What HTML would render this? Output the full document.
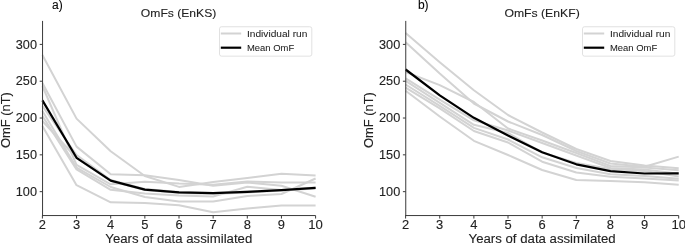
<!DOCTYPE html>
<html><head><meta charset="utf-8"><style>html,body{margin:0;padding:0;background:#fff;overflow:hidden}svg{display:block;will-change:transform} text{stroke:#222;stroke-width:0.1px} text.lg{stroke-width:0.05px}</style></head>
<body>
<svg width="685" height="243" viewBox="0 0 685 243" font-family="'Liberation Sans', sans-serif" font-size="12" fill="#222">
<rect width="685" height="243" fill="#fff"/>
<text x="52.1" y="9.0" font-size="12" fill="#000">a)</text>
<text x="417.9" y="9.3" font-size="12" fill="#000">b)</text>
<text x="178.6" y="16.5" font-size="11.4" text-anchor="middle" textLength="75.5" lengthAdjust="spacingAndGlyphs">OmFs (EnKS)</text>
<text x="542.1" y="16.5" font-size="11.4" text-anchor="middle" textLength="75.3" lengthAdjust="spacingAndGlyphs">OmFs (EnKF)</text>
<text transform="translate(9.8,120.1) rotate(-90)" text-anchor="middle" textLength="56" lengthAdjust="spacingAndGlyphs">OmF (nT)</text>
<text transform="translate(373.2,120.1) rotate(-90)" text-anchor="middle" textLength="56" lengthAdjust="spacingAndGlyphs">OmF (nT)</text>
<text x="178.8" y="243.1" text-anchor="middle" textLength="147" lengthAdjust="spacingAndGlyphs">Years of data assimilated</text>
<text x="542.1" y="243.1" text-anchor="middle" textLength="147" lengthAdjust="spacingAndGlyphs">Years of data assimilated</text>
<polyline points="42.40,55.00 76.55,118.60 110.70,151.20 144.85,176.00 179.00,186.90 213.15,182.10 247.30,178.10 281.45,173.80 315.60,175.50" fill="none" stroke="#d3d3d3" stroke-width="2" stroke-linejoin="round" stroke-linecap="butt"/>
<polyline points="42.40,83.00 76.55,146.60 110.70,174.30 144.85,175.20 179.00,179.90 213.15,185.80 247.30,182.50 281.45,185.80 315.60,196.70" fill="none" stroke="#d3d3d3" stroke-width="2" stroke-linejoin="round" stroke-linecap="butt"/>
<polyline points="42.40,86.00 76.55,164.80 110.70,184.30 144.85,181.70 179.00,183.60 213.15,184.70 247.30,181.40 281.45,182.50 315.60,182.50" fill="none" stroke="#d3d3d3" stroke-width="2" stroke-linejoin="round" stroke-linecap="butt"/>
<polyline points="42.40,126.00 76.55,185.20 110.70,202.30 144.85,203.00 179.00,205.20 213.15,212.30 247.30,208.60 281.45,205.50 315.60,205.50" fill="none" stroke="#d3d3d3" stroke-width="2" stroke-linejoin="round" stroke-linecap="butt"/>
<polyline points="42.40,111.00 76.55,167.60 110.70,187.00 144.85,197.00 179.00,201.50 213.15,201.50 247.30,196.00 281.45,194.00 315.60,178.50" fill="none" stroke="#d3d3d3" stroke-width="2" stroke-linejoin="round" stroke-linecap="butt"/>
<polyline points="42.40,116.00 76.55,169.40 110.70,189.80 144.85,193.50 179.00,195.50 213.15,196.50 247.30,186.70 281.45,190.00 315.60,188.00" fill="none" stroke="#d3d3d3" stroke-width="2" stroke-linejoin="round" stroke-linecap="butt"/>
<polyline points="42.40,106.00 76.55,155.00 110.70,180.00 144.85,189.00 179.00,192.00 213.15,193.00 247.30,191.50 281.45,190.00 315.60,187.50" fill="none" stroke="#d3d3d3" stroke-width="2" stroke-linejoin="round" stroke-linecap="butt"/>
<polyline points="42.40,121.00 76.55,158.00 110.70,181.00 144.85,190.00 179.00,193.00 213.15,194.00 247.30,192.50 281.45,190.50 315.60,188.50" fill="none" stroke="#d3d3d3" stroke-width="2" stroke-linejoin="round" stroke-linecap="butt"/>
<polyline points="42.40,100.40 76.55,157.80 110.70,180.60 144.85,189.60 179.00,192.40 213.15,193.20 247.30,191.90 281.45,190.10 315.60,187.80" fill="none" stroke="#000" stroke-width="2.2" stroke-linejoin="round"/>

<polyline points="405.60,33.10 439.74,62.30 473.88,90.30 508.02,115.00 542.16,132.50 576.30,149.00 610.44,161.00 644.58,165.50 678.72,168.30" fill="none" stroke="#d3d3d3" stroke-width="2" stroke-linejoin="round" stroke-linecap="butt"/>
<polyline points="405.60,42.30 439.74,73.60 473.88,103.50 508.02,121.50 542.16,135.00 576.30,151.00 610.44,163.50 644.58,166.70 678.72,156.60" fill="none" stroke="#d3d3d3" stroke-width="2" stroke-linejoin="round" stroke-linecap="butt"/>
<polyline points="405.60,72.00 439.74,85.10 473.88,102.00 508.02,128.50 542.16,140.50 576.30,153.00 610.44,166.00 644.58,167.40 678.72,170.30" fill="none" stroke="#d3d3d3" stroke-width="2" stroke-linejoin="round" stroke-linecap="butt"/>
<polyline points="405.60,78.30 439.74,99.70 473.88,120.30 508.02,130.50 542.16,143.00 576.30,155.50 610.44,168.00 644.58,169.50 678.72,173.80" fill="none" stroke="#d3d3d3" stroke-width="2" stroke-linejoin="round" stroke-linecap="butt"/>
<polyline points="405.60,80.80 439.74,102.80 473.88,124.80 508.02,133.00 542.16,152.50 576.30,163.00 610.44,169.00 644.58,171.00 678.72,176.40" fill="none" stroke="#d3d3d3" stroke-width="2" stroke-linejoin="round" stroke-linecap="butt"/>
<polyline points="405.60,84.50 439.74,105.90 473.88,127.90 508.02,139.50 542.16,157.30 576.30,168.00 610.44,174.20 644.58,176.00 678.72,178.80" fill="none" stroke="#d3d3d3" stroke-width="2" stroke-linejoin="round" stroke-linecap="butt"/>
<polyline points="405.60,87.60 439.74,108.30 473.88,131.00 508.02,142.50 542.16,161.70 576.30,172.50 610.44,176.70 644.58,178.50 678.72,180.50" fill="none" stroke="#d3d3d3" stroke-width="2" stroke-linejoin="round" stroke-linecap="butt"/>
<polyline points="405.60,90.70 439.74,116.50 473.88,140.80 508.02,155.00 542.16,170.00 576.30,180.00 610.44,181.00 644.58,182.30 678.72,184.70" fill="none" stroke="#d3d3d3" stroke-width="2" stroke-linejoin="round" stroke-linecap="butt"/>
<polyline points="405.60,69.50 439.74,95.30 473.88,117.80 508.02,135.50 542.16,152.30 576.30,164.30 610.44,171.20 644.58,173.50 678.72,173.40" fill="none" stroke="#000" stroke-width="2.2" stroke-linejoin="round"/>

<line x1="42.55" y1="20.9" x2="42.55" y2="216.05" stroke="#3a3a3a" stroke-width="1"/>
<line x1="42.05" y1="215.55" x2="315.6" y2="215.55" stroke="#3a3a3a" stroke-width="1"/>
<line x1="39.699999999999996" y1="191.66" x2="42.4" y2="191.66" stroke="#3a3a3a" stroke-width="1"/>
<text x="37.0" y="195.76" text-anchor="end" textLength="21.2" lengthAdjust="spacingAndGlyphs">100</text>
<line x1="39.699999999999996" y1="154.84" x2="42.4" y2="154.84" stroke="#3a3a3a" stroke-width="1"/>
<text x="37.0" y="158.94" text-anchor="end" textLength="21.2" lengthAdjust="spacingAndGlyphs">150</text>
<line x1="39.699999999999996" y1="118.03" x2="42.4" y2="118.03" stroke="#3a3a3a" stroke-width="1"/>
<text x="37.0" y="122.13" text-anchor="end" textLength="21.2" lengthAdjust="spacingAndGlyphs">200</text>
<line x1="39.699999999999996" y1="81.22" x2="42.4" y2="81.22" stroke="#3a3a3a" stroke-width="1"/>
<text x="37.0" y="85.31" text-anchor="end" textLength="21.2" lengthAdjust="spacingAndGlyphs">250</text>
<line x1="39.699999999999996" y1="44.40" x2="42.4" y2="44.40" stroke="#3a3a3a" stroke-width="1"/>
<text x="37.0" y="48.50" text-anchor="end" textLength="21.2" lengthAdjust="spacingAndGlyphs">300</text>
<line x1="42.40" y1="215.55" x2="42.40" y2="218.55" stroke="#3a3a3a" stroke-width="1"/>
<text x="42.40" y="228.6" text-anchor="middle" textLength="7.2" lengthAdjust="spacingAndGlyphs">2</text>
<line x1="76.55" y1="215.55" x2="76.55" y2="218.55" stroke="#3a3a3a" stroke-width="1"/>
<text x="76.55" y="228.6" text-anchor="middle" textLength="7.2" lengthAdjust="spacingAndGlyphs">3</text>
<line x1="110.70" y1="215.55" x2="110.70" y2="218.55" stroke="#3a3a3a" stroke-width="1"/>
<text x="110.70" y="228.6" text-anchor="middle" textLength="7.2" lengthAdjust="spacingAndGlyphs">4</text>
<line x1="144.85" y1="215.55" x2="144.85" y2="218.55" stroke="#3a3a3a" stroke-width="1"/>
<text x="144.85" y="228.6" text-anchor="middle" textLength="7.2" lengthAdjust="spacingAndGlyphs">5</text>
<line x1="179.00" y1="215.55" x2="179.00" y2="218.55" stroke="#3a3a3a" stroke-width="1"/>
<text x="179.00" y="228.6" text-anchor="middle" textLength="7.2" lengthAdjust="spacingAndGlyphs">6</text>
<line x1="213.15" y1="215.55" x2="213.15" y2="218.55" stroke="#3a3a3a" stroke-width="1"/>
<text x="213.15" y="228.6" text-anchor="middle" textLength="7.2" lengthAdjust="spacingAndGlyphs">7</text>
<line x1="247.30" y1="215.55" x2="247.30" y2="218.55" stroke="#3a3a3a" stroke-width="1"/>
<text x="247.30" y="228.6" text-anchor="middle" textLength="7.2" lengthAdjust="spacingAndGlyphs">8</text>
<line x1="281.45" y1="215.55" x2="281.45" y2="218.55" stroke="#3a3a3a" stroke-width="1"/>
<text x="281.45" y="228.6" text-anchor="middle" textLength="7.2" lengthAdjust="spacingAndGlyphs">9</text>
<line x1="315.60" y1="215.55" x2="315.60" y2="218.55" stroke="#3a3a3a" stroke-width="1"/>
<text x="315.60" y="228.6" text-anchor="middle" textLength="14.6" lengthAdjust="spacingAndGlyphs">10</text>

<line x1="405.75" y1="20.9" x2="405.75" y2="216.05" stroke="#3a3a3a" stroke-width="1"/>
<line x1="405.25" y1="215.55" x2="678.7" y2="215.55" stroke="#3a3a3a" stroke-width="1"/>
<line x1="402.90000000000003" y1="191.66" x2="405.6" y2="191.66" stroke="#3a3a3a" stroke-width="1"/>
<text x="400.20000000000005" y="195.76" text-anchor="end" textLength="21.2" lengthAdjust="spacingAndGlyphs">100</text>
<line x1="402.90000000000003" y1="154.84" x2="405.6" y2="154.84" stroke="#3a3a3a" stroke-width="1"/>
<text x="400.20000000000005" y="158.94" text-anchor="end" textLength="21.2" lengthAdjust="spacingAndGlyphs">150</text>
<line x1="402.90000000000003" y1="118.03" x2="405.6" y2="118.03" stroke="#3a3a3a" stroke-width="1"/>
<text x="400.20000000000005" y="122.13" text-anchor="end" textLength="21.2" lengthAdjust="spacingAndGlyphs">200</text>
<line x1="402.90000000000003" y1="81.22" x2="405.6" y2="81.22" stroke="#3a3a3a" stroke-width="1"/>
<text x="400.20000000000005" y="85.31" text-anchor="end" textLength="21.2" lengthAdjust="spacingAndGlyphs">250</text>
<line x1="402.90000000000003" y1="44.40" x2="405.6" y2="44.40" stroke="#3a3a3a" stroke-width="1"/>
<text x="400.20000000000005" y="48.50" text-anchor="end" textLength="21.2" lengthAdjust="spacingAndGlyphs">300</text>
<line x1="405.60" y1="215.55" x2="405.60" y2="218.55" stroke="#3a3a3a" stroke-width="1"/>
<text x="405.60" y="228.6" text-anchor="middle" textLength="7.2" lengthAdjust="spacingAndGlyphs">2</text>
<line x1="439.74" y1="215.55" x2="439.74" y2="218.55" stroke="#3a3a3a" stroke-width="1"/>
<text x="439.74" y="228.6" text-anchor="middle" textLength="7.2" lengthAdjust="spacingAndGlyphs">3</text>
<line x1="473.88" y1="215.55" x2="473.88" y2="218.55" stroke="#3a3a3a" stroke-width="1"/>
<text x="473.88" y="228.6" text-anchor="middle" textLength="7.2" lengthAdjust="spacingAndGlyphs">4</text>
<line x1="508.01" y1="215.55" x2="508.01" y2="218.55" stroke="#3a3a3a" stroke-width="1"/>
<text x="508.01" y="228.6" text-anchor="middle" textLength="7.2" lengthAdjust="spacingAndGlyphs">5</text>
<line x1="542.15" y1="215.55" x2="542.15" y2="218.55" stroke="#3a3a3a" stroke-width="1"/>
<text x="542.15" y="228.6" text-anchor="middle" textLength="7.2" lengthAdjust="spacingAndGlyphs">6</text>
<line x1="576.29" y1="215.55" x2="576.29" y2="218.55" stroke="#3a3a3a" stroke-width="1"/>
<text x="576.29" y="228.6" text-anchor="middle" textLength="7.2" lengthAdjust="spacingAndGlyphs">7</text>
<line x1="610.43" y1="215.55" x2="610.43" y2="218.55" stroke="#3a3a3a" stroke-width="1"/>
<text x="610.43" y="228.6" text-anchor="middle" textLength="7.2" lengthAdjust="spacingAndGlyphs">8</text>
<line x1="644.56" y1="215.55" x2="644.56" y2="218.55" stroke="#3a3a3a" stroke-width="1"/>
<text x="644.56" y="228.6" text-anchor="middle" textLength="7.2" lengthAdjust="spacingAndGlyphs">9</text>
<line x1="678.70" y1="215.55" x2="678.70" y2="218.55" stroke="#3a3a3a" stroke-width="1"/>
<text x="678.70" y="228.6" text-anchor="middle" textLength="14.6" lengthAdjust="spacingAndGlyphs">10</text>

<rect x="219.5" y="26.75" width="92.3" height="29.4" rx="2" ry="2" fill="#fff" fill-opacity="0.8" stroke="#d9d9d9" stroke-width="0.8"/>
<line x1="220.8" y1="33.5" x2="241.2" y2="33.5" stroke="#d3d3d3" stroke-width="2"/>
<line x1="220.8" y1="47.7" x2="241.2" y2="47.7" stroke="#000" stroke-width="2.2"/>
<text class="lg" x="247" y="36.6" font-size="8.8" textLength="60.3" lengthAdjust="spacingAndGlyphs">Individual run</text>
<text class="lg" x="247" y="51" font-size="8.8" textLength="47.2" lengthAdjust="spacingAndGlyphs">Mean OmF</text>

<rect x="582.5" y="26.75" width="92.3" height="29.4" rx="2" ry="2" fill="#fff" fill-opacity="0.8" stroke="#d9d9d9" stroke-width="0.8"/>
<line x1="583.8" y1="33.5" x2="604.2" y2="33.5" stroke="#d3d3d3" stroke-width="2"/>
<line x1="583.8" y1="47.7" x2="604.2" y2="47.7" stroke="#000" stroke-width="2.2"/>
<text class="lg" x="610" y="36.6" font-size="8.8" textLength="60.3" lengthAdjust="spacingAndGlyphs">Individual run</text>
<text class="lg" x="610" y="51" font-size="8.8" textLength="47.2" lengthAdjust="spacingAndGlyphs">Mean OmF</text>

</svg>
</body></html>
